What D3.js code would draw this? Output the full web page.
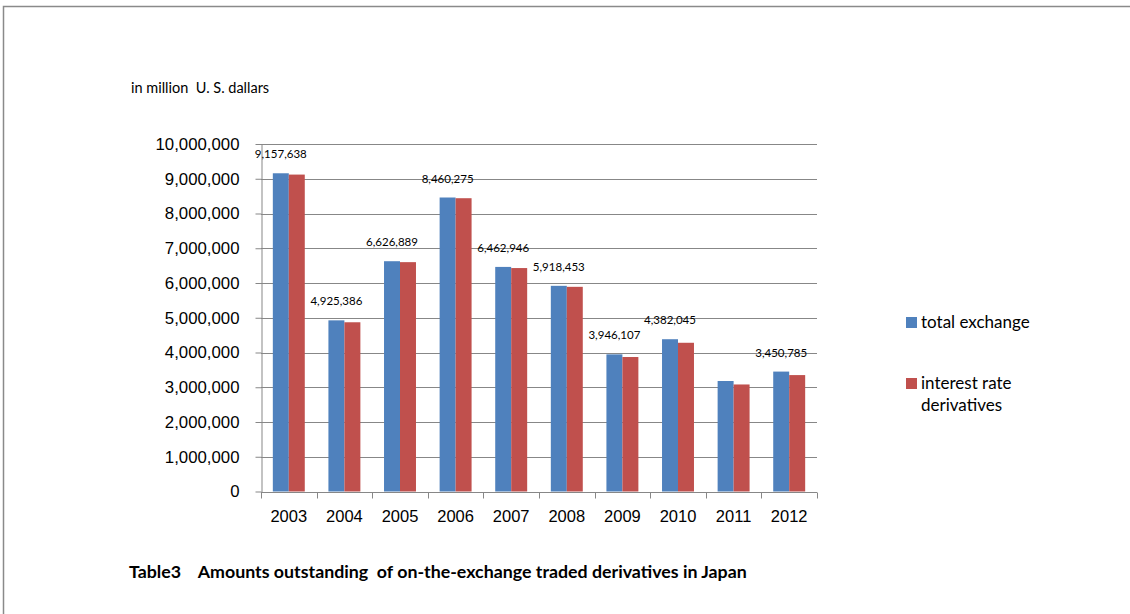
<!DOCTYPE html>
<html>
<head>
<meta charset="utf-8">
<script src="https://cdn.jsdelivr.net/npm/d3@7"></script>
<style>
  body { margin: 0; background: #fff; }
  svg { display: block; font-family: Lato, "Open Sans", sans-serif; }
  .grid line { stroke: #878787; stroke-width: 1.2; }
  .axis path, .axis line { stroke: #878787; }
</style>
</head>
<body>
<div id="chart"></div>
<script>
// Datos
const years = ['2003', '2004', '2005', '2006', '2007', '2008', '2009', '2010', '2011', '2012'];
const seriesNames = ['total exchange', 'interest rate derivatives'];
const totalExchange = [9157638, 4925386, 6626889, 8460275, 6462946, 5918453, 3946107, 4382045, 3180000, 3450785];
const interestRate = [9120000, 4870000, 6600000, 8440000, 6430000, 5890000, 3870000, 4280000, 3080000, 3350000];
// etiquetas de datos (2011 no lleva etiqueta)
const showLabel = [true, true, true, true, true, true, true, true, false, true];
const yTicks = [0, 1000000, 2000000, 3000000, 4000000, 5000000, 6000000, 7000000, 8000000, 9000000, 10000000];
const colors = ['#4f81bd', '#c0504d'];

const W = 1130, H = 614;
const plot = { left: 261, right: 817, top: 144, bottom: 491.5 };

const svg = d3.select('#chart').append('svg')
  .attr('width', W)
  .attr('height', H);

// Borde del área del gráfico (solo izquierda y arriba visibles)
svg.append('rect')
  .attr('x', 3.5).attr('y', 6.5)
  .attr('width', 1200).attr('height', 700)
  .attr('fill', 'none')
  .attr('stroke', '#8a8a8a')
  .attr('stroke-width', 1.5);

const x0 = d3.scaleBand().domain(years).range([plot.left, plot.right]).padding(0);
const x1 = d3.scaleBand().domain(seriesNames).range([0, x0.bandwidth()])
  .paddingInner(0).paddingOuter(0.74);
const y = d3.scaleLinear().domain([0, 10000000]).range([plot.bottom, plot.top]);

const fmt = d3.format(',');

// Líneas de cuadrícula
svg.append('g').attr('class', 'grid')
  .selectAll('line')
  .data(yTicks.slice(1))
  .enter().append('line')
  .attr('x1', plot.left).attr('x2', plot.right)
  .attr('y1', d => Math.round(y(d)) + 0.5)
  .attr('y2', d => Math.round(y(d)) + 0.5);

// Barras
const rows = years.map((yr, i) => ({ year: yr, values: [totalExchange[i], interestRate[i]] }));
const groups = svg.append('g').selectAll('g')
  .data(rows)
  .enter().append('g')
  .attr('transform', d => `translate(${x0(d.year)},0)`);

groups.selectAll('rect')
  .data(d => d.values.map((v, k) => ({ key: seriesNames[k], value: v, k })))
  .enter().append('rect')
  .attr('x', d => x1(d.key))
  .attr('width', x1.bandwidth())
  .attr('y', d => y(d.value))
  .attr('height', d => y(0) - y(d.value))
  .attr('fill', d => colors[d.k]);

// Eje Y
const yAxis = svg.append('g').attr('class', 'axis')
  .attr('transform', `translate(${plot.left + 0.5},0)`)
  .call(d3.axisLeft(y).tickValues(yTicks).tickFormat(fmt).tickSize(6).tickPadding(16).tickSizeOuter(0));
yAxis.selectAll('text')
  .style('font-size', '16.8px')
  .style('fill', '#000');

// Eje X
const xAxis = svg.append('g').attr('class', 'axis')
  .attr('transform', `translate(0,${Math.round(plot.bottom) + 0.5})`)
  .call(d3.axisBottom(x0).tickSize(0).tickPadding(18));
xAxis.select('.domain').remove();
xAxis.append('line')
  .attr('x1', plot.left).attr('x2', plot.right)
  .attr('stroke', '#878787');
xAxis.selectAll('.tick text')
  .style('font-size', '16.5px')
  .style('fill', '#000');
// marcas entre categorías
xAxis.selectAll('.sep')
  .data(years.concat(['end']))
  .enter().append('line')
  .attr('class', 'sep')
  .attr('x1', (d, i) => Math.round(plot.left + i * x0.step()) + 0.5)
  .attr('x2', (d, i) => Math.round(plot.left + i * x0.step()) + 0.5)
  .attr('y1', 0).attr('y2', 6)
  .attr('stroke', '#878787');

// Etiquetas de datos (serie azul)
svg.append('g').selectAll('text')
  .data(rows.filter((d, i) => showLabel[i]))
  .enter().append('text')
  .attr('x', d => x0(d.year) + x1(seriesNames[0]) + x1.bandwidth() / 2)
  .attr('y', d => y(d.values[0]) - 15)
  .attr('text-anchor', 'middle')
  .style('font-size', '11.5px')
  .style('fill', '#000')
  .text(d => fmt(d.values[0]));

// Título del eje Y
svg.append('text')
  .attr('x', 131).attr('y', 93)
  .style('font-size', '14.5px')
  .style('white-space', 'pre')
  .text('in million  U. S. dallars');

// Leyenda
const legend = svg.append('g');
const legendItems = [
  { lines: ['total exchange'], y: 317 },
  { lines: ['interest rate', 'derivatives'], y: 378 }
];
legendItems.forEach((it, k) => {
  legend.append('rect')
    .attr('x', 906).attr('y', it.y)
    .attr('width', 11).attr('height', 11)
    .attr('fill', colors[k]);
  it.lines.forEach((ln, j) => {
    legend.append('text')
      .attr('x', 921).attr('y', it.y + 11 + j * 22)
      .style('font-size', '17px')
      .style('fill', '#000')
      .text(ln);
  });
});

// Título
svg.append('text')
  .attr('x', 129).attr('y', 578)
  .style('font-size', '17.8px')
  .style('font-weight', 'bold')
  .style('white-space', 'pre')
  .text('Table3    Amounts outstanding  of on-the-exchange traded derivatives in Japan');
</script>
</body>
</html>
